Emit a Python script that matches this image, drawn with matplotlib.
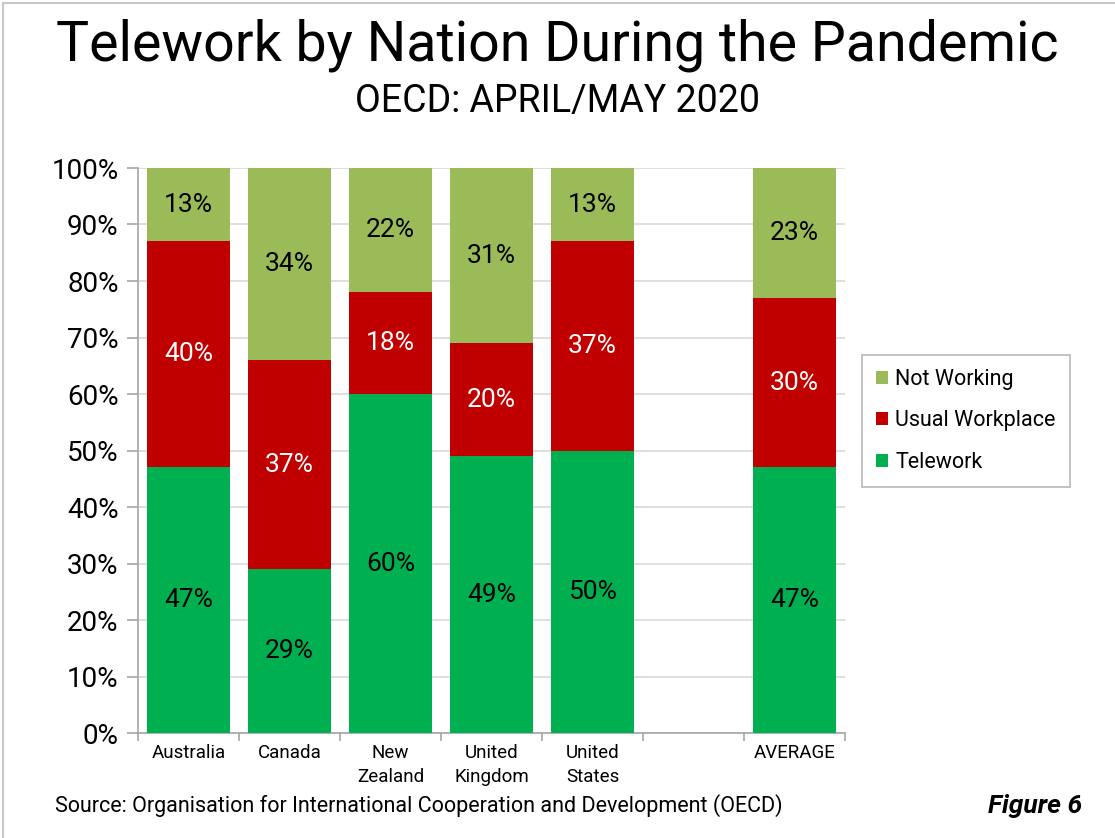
import matplotlib.pyplot as plt
from matplotlib.patches import Rectangle
import numpy as np

# dados
paises = ["Australia", "Canada", "New\nZealand", "United\nKingdom", "United\nStates", "", "AVERAGE"]
telework = [47, 29, 60, 49, 50, None, 47]
usual = [40, 37, 18, 20, 37, None, 30]
not_working = [13, 34, 22, 31, 13, None, 23]

cor_tele = "#00B050"
cor_usual = "#C00000"
cor_not = "#9BBB59"

plt.rcParams['font.family'] = ['Roboto', 'DejaVu Sans']


def main():
    fig = plt.figure(figsize=(11.15, 8.38), dpi=100)
    fig.patches.append(Rectangle((0.003, -0.01), 1.2, 1.0066, transform=fig.transFigure,
                                 fill=False, edgecolor="#C8C8C8", lw=1.5))

    ax = fig.add_axes([138 / 1115, 1 - 733 / 838, (845 - 138) / 1115, (733 - 168) / 838])

    x = np.arange(len(paises))
    largura = 0.83
    idx = [i for i, v in enumerate(telework) if v is not None]
    t = np.array([telework[i] for i in idx], float)
    u = np.array([usual[i] for i in idx], float)
    n = np.array([not_working[i] for i in idx], float)
    xs = x[idx]

    b1 = ax.bar(xs, t, largura, color=cor_tele, label="Telework", zorder=3)
    b2 = ax.bar(xs, u, largura, bottom=t, color=cor_usual, label="Usual Workplace", zorder=3)
    b3 = ax.bar(xs, n, largura, bottom=t + u, color=cor_not, label="Not Working", zorder=3)

    for xi, a, b, c in zip(xs, t, u, n):
        ax.text(xi, a / 2, f"{a:.0f}%", ha="center", va="center", fontsize=19, color="black", zorder=4)
        ax.text(xi, a + b / 2, f"{b:.0f}%", ha="center", va="center", fontsize=19, color="white", zorder=4)
        ax.text(xi, a + b + c / 2, f"{c:.0f}%", ha="center", va="center", fontsize=19, color="black", zorder=4)

    ax.set_xlim(-0.5, len(paises) - 0.5)
    ax.set_ylim(0, 100)
    ax.set_yticks(np.arange(0, 101, 10))
    ax.set_yticklabels([f"{v}%" for v in range(0, 101, 10)], fontsize=20)
    ax.set_xticks(x)
    ax.set_xticklabels(paises, fontsize=13.5, linespacing=1.4)
    ax.set_xticks(np.arange(-0.5, len(paises)), minor=True)
    ax.tick_params(axis="x", which="major", length=0, pad=8)
    ax.tick_params(axis="x", which="minor", length=6, color="#A6A6A6", width=1.2)
    ax.tick_params(axis="y", length=8, color="#A6A6A6", width=1.2, pad=6)

    ax.grid(axis="y", color="#D9D9D9", lw=1.2, zorder=0)
    for lado in ["top", "right"]:
        ax.spines[lado].set_visible(False)
    ax.spines["left"].set_color("#A6A6A6")
    ax.spines["bottom"].set_color("#A6A6A6")
    ax.spines["left"].set_linewidth(1.2)
    ax.spines["bottom"].set_linewidth(1.2)

    leg = fig.legend(handles=[b3, b2, b1], loc="upper left",
                     bbox_to_anchor=(862 / 1115, 1 - 355 / 838), fontsize=15.5,
                     frameon=True, fancybox=False, edgecolor="#A6A6A6",
                     handlelength=0.55, handleheight=0.55, handletextpad=0.35,
                     labelspacing=0.95, borderpad=0.65, borderaxespad=0)
    leg.get_frame().set_linewidth(1.2)

    fig.text(0.5, 1 - 45 / 838, "Telework by Nation During the Pandemic", ha="center", va="center",
             fontsize=40)
    fig.text(0.5, 1 - 101 / 838, "OECD: APRIL/MAY 2020", ha="center", va="center", fontsize=27)
    fig.text(55 / 1115, 1 - 806 / 838, "Source: Organisation for International Cooperation and Development (OECD)",
             ha="left", va="center", fontsize=15.5)
    fig.text(1082 / 1115, 1 - 806 / 838, "Figure 6", ha="right", va="center", fontsize=19,
             fontweight="bold", fontstyle="italic")

    fig.savefig("out.png", dpi=100)


if __name__ == "__main__":
    main()
